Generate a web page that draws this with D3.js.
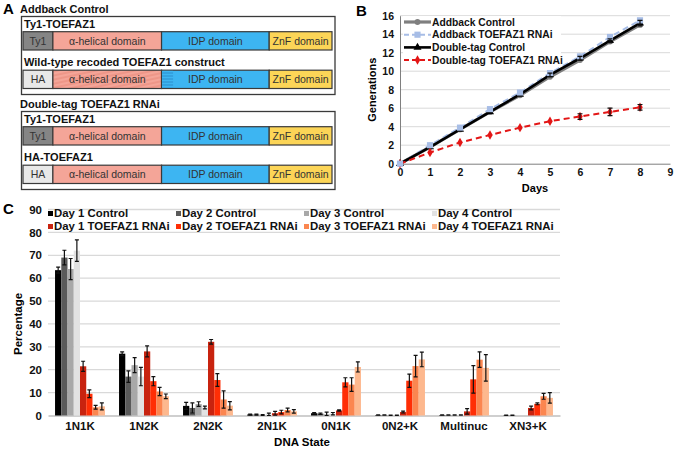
<!DOCTYPE html>
<html>
<head>
<meta charset="utf-8">
<script src="https://cdn.jsdelivr.net/npm/d3@7"></script>
<style>
body { margin: 0; background: #fff; }
svg { display: block; font-family: "Liberation Sans", Arial, sans-serif; }
</style>
</head>
<body>
<svg id="fig" width="674" height="449"></svg>
<script>
// ---- panel A: construct schematics ----
var groupTitles = ["Addback Control", "Double-tag TOEFAZ1 RNAi"];
var rowNames = [["Ty1-TOEFAZ1", "Wild-type recoded TOEFAZ1 construct"], ["Ty1-TOEFAZ1", "HA-TOEFAZ1"]];
var rowTags = [["Ty1", "HA"], ["Ty1", "HA"]];
var rowRecoded = [[false, true], [false, false]];
var domainNames = ["α-helical domain", "IDP domain", "ZnF domain"];
var domainLengths = [30, 109, 108, 63]; // tag, helical, IDP, ZnF (relative units)
var recodedIdpPart = 11;

// ---- panel B: growth curves ----
var days = [0, 1, 2, 3, 4, 5, 6, 7, 8];
var addbackControl = [0, 1.8, 3.7, 5.6, 7.4, 9.4, 11.2, 13.2, 15.0];
var addbackRnai = [0, 2.0, 3.9, 5.9, 7.7, 9.8, 11.6, 13.7, 15.5];
var doubleControl = [0, 1.8, 3.7, 5.6, 7.5, 9.6, 11.4, 13.3, 15.2];
var doubleRnai = [0, 1.2, 2.3, 3.1, 3.9, 4.6, 5.1, 5.6, 6.1];
var doubleControlErr = [0, 0.1, 0.1, 0.1, 0.1, 0.2, 0.2, 0.2, 0.3];
var doubleRnaiErr = [0, 0.1, 0.1, 0.1, 0.1, 0.1, 0.3, 0.4, 0.3];
var growthNames = ["Addback Control", "Addback TOEFAZ1 RNAi", "Double-tag Control", "Double-tag TOEFAZ1 RNAi"];

// ---- panel C: DNA state ----
var dnaStates = ["1N1K", "1N2K", "2N2K", "2N1K", "0N1K", "0N2+K", "Multinuc", "XN3+K"];
var seriesNames = ["Day 1 Control", "Day 2 Control", "Day 3 Control", "Day 4 Control",
                   "Day 1 TOEFAZ1 RNAi", "Day 2 TOEFAZ1 RNAi", "Day 3 TOEFAZ1 RNAi", "Day 4 TOEFAZ1 RNAi"];
var controlDay1 = [63.5, 27, 4.2, 0.4, 1.0, 0.2, 0.2, 0.1];
var controlDay2 = [69, 17, 3.3, 0.4, 0.8, 0.2, 0.2, 0.1];
var controlDay3 = [64, 22, 5.0, 0.2, 0.5, 0.1, 0.2, 0];
var controlDay4 = [72, 17, 3.5, 0.5, 0.8, 0.1, 0.2, 0];
var rnaiDay1 = [21.5, 28, 32.2, 1.0, 2.2, 1.5, 1.8, 3.3];
var rnaiDay2 = [9.5, 15, 15.5, 1.5, 14.5, 15.2, 15.8, 5.1];
var rnaiDay3 = [3.6, 10.5, 7.0, 2.4, 13.5, 21.6, 24.4, 8.4];
var rnaiDay4 = [4.0, 8.4, 4.3, 1.8, 21.2, 24.5, 20.8, 7.7];
var controlDay1Err = [1.3, 0.8, 1.5, 0.2, 0.3, 0.1, 0.1, 0.1];
var controlDay2Err = [3.2, 2.5, 2.2, 0.2, 0.3, 0.1, 0.1, 0.1];
var controlDay3Err = [4.6, 3.3, 1.0, 0.2, 1.0, 0.1, 0.1, 0];
var controlDay4Err = [4.7, 4.0, 0.6, 0.5, 0.5, 0.1, 0.1, 0];
var rnaiDay1Err = [2.2, 2.4, 1.0, 0.8, 0.3, 0.4, 1.2, 0.8];
var rnaiDay2Err = [1.7, 2.0, 2.8, 0.8, 2.0, 2.9, 6.0, 0.4];
var rnaiDay3Err = [0.8, 1.8, 3.8, 0.8, 3.0, 4.7, 3.4, 1.3];
var rnaiDay4Err = [1.5, 1.0, 1.8, 0.8, 2.2, 3.2, 5.8, 2.3];

var seriesValues = [controlDay1, controlDay2, controlDay3, controlDay4, rnaiDay1, rnaiDay2, rnaiDay3, rnaiDay4];
var seriesErrors = [controlDay1Err, controlDay2Err, controlDay3Err, controlDay4Err, rnaiDay1Err, rnaiDay2Err, rnaiDay3Err, rnaiDay4Err];
var seriesColors = ["#000000", "#5a5a5a", "#a8a8a8", "#e2e2e2", "#c8230f", "#ff2e05", "#fb8650", "#fdb88e"];

var svg = d3.select("#fig");
svg.append("rect").attr("width", 674).attr("height", 449).attr("fill", "#fff");

// =========== A ===========
var defs = svg.append("defs");
var hatchPink = defs.append("pattern").attr("id", "hatchPink")
  .attr("patternUnits", "userSpaceOnUse").attr("width", 8).attr("height", 4)
  .attr("patternTransform", "rotate(-12)");
hatchPink.append("rect").attr("width", 8).attr("height", 4).attr("fill", "#f4a598");
hatchPink.append("line").attr("x1", 0).attr("x2", 8).attr("y1", 1).attr("y2", 1)
  .attr("stroke", "#e47f70").attr("stroke-width", 0.8);
var hatchBlue = defs.append("pattern").attr("id", "hatchBlue")
  .attr("patternUnits", "userSpaceOnUse").attr("width", 6).attr("height", 3);
hatchBlue.append("rect").attr("width", 6).attr("height", 3).attr("fill", "#3db5f2");
hatchBlue.append("line").attr("x1", 0).attr("x2", 6).attr("y1", 1).attr("y2", 1)
  .attr("stroke", "#2483c4").attr("stroke-width", 0.8);

var tagColors = { "Ty1": "#858585", "HA": "#e8e8e8" };
var domainColors = ["#f4a598", "#3db5f2", "#fcd557"];

svg.append("text").attr("x", 3).attr("y", 14).attr("font-size", 15).attr("font-weight", "bold").text("A");

var totalLen = d3.sum(domainLengths);
var xDom = d3.scaleLinear().domain([0, totalLen]).range([23, 332]);
var cum = [0];
domainLengths.forEach(function(l, i) { cum.push(cum[i] + l); });

var boxTops = [16.5, 111.5];
var titleYs = [9, 104];

groupTitles.forEach(function(title, g) {
  svg.append("text").attr("x", 20).attr("y", titleYs[g]).attr("dy", "0.35em")
    .attr("font-size", 11).attr("font-weight", "bold").attr("fill", "#111").text(title);
  var top = boxTops[g];
  svg.append("rect").attr("x", 21.5).attr("y", top).attr("width", 313.5).attr("height", 78)
    .attr("fill", "#fff").attr("stroke", "#3a3a3a").attr("stroke-width", 1.3);

  rowNames[g].forEach(function(name, r) {
    var labelY = top + 7.8 + r * 38;
    var barY = top + 15.2 + r * 38.5;
    svg.append("text").attr("x", 24).attr("y", labelY).attr("dy", "0.35em")
      .attr("font-size", 11).attr("font-weight", "bold").attr("fill", "#111").text(name);

    var segs = [{ label: rowTags[g][r], fill: tagColors[rowTags[g][r]], a: cum[0], b: cum[1] }];
    domainNames.forEach(function(dn, i) {
      var fill = domainColors[i];
      if (rowRecoded[g][r] && i === 0) fill = "url(#hatchPink)";
      segs.push({ label: dn, fill: fill, a: cum[i + 1], b: cum[i + 2] });
    });
    segs.forEach(function(s) {
      svg.append("rect").attr("x", xDom(s.a)).attr("y", barY)
        .attr("width", xDom(s.b) - xDom(s.a)).attr("height", 18.3)
        .attr("fill", s.fill).attr("stroke", "#3a3a3a").attr("stroke-width", 1.2);
    });
    if (rowRecoded[g][r]) {
      svg.append("rect").attr("x", xDom(cum[2]) + 0.6).attr("y", barY + 0.6)
        .attr("width", xDom(cum[2] + recodedIdpPart) - xDom(cum[2])).attr("height", 17.1)
        .attr("fill", "url(#hatchBlue)");
    }
    segs.forEach(function(s) {
      svg.append("text").attr("x", (xDom(s.a) + xDom(s.b)) / 2).attr("y", barY + 9.4)
        .attr("dy", "0.35em").attr("text-anchor", "middle").attr("font-size", 10.5)
        .attr("fill", "#333").text(s.label);
    });
  });
});

// =========== B ===========
var xB = d3.scaleLinear().domain([0, 9]).range([400, 670]);
var yB = d3.scaleLinear().domain([0, 16]).range([163.7, 15.7]);

svg.append("text").attr("x", 356).attr("y", 16).attr("font-size", 15).attr("font-weight", "bold").text("B");

var gB = svg.append("g");
gB.selectAll("line.grid").data(d3.range(2, 17, 2)).join("line")
  .attr("x1", xB(0)).attr("x2", xB(9)).attr("y1", function(d) { return yB(d); }).attr("y2", function(d) { return yB(d); })
  .attr("stroke", "#d9d9d9").attr("stroke-width", 1);

var axYB = gB.append("g").attr("transform", "translate(" + xB(0) + ",0)")
  .call(d3.axisLeft(yB).tickValues(d3.range(0, 17, 2)).tickSize(0).tickPadding(6));
var axXB = gB.append("g").attr("transform", "translate(0," + yB(0) + ")")
  .call(d3.axisBottom(xB).ticks(9).tickSize(0).tickPadding(5));
[axYB, axXB].forEach(function(a) {
  a.select(".domain").attr("stroke", "#7f7f7f").attr("stroke-width", 1);
  a.selectAll("text").attr("font-size", 10.5).attr("font-weight", "bold").attr("fill", "#111")
    .attr("font-family", "Liberation Sans, Arial, sans-serif");
});
svg.append("text").attr("transform", "translate(372," + yB(8) + ") rotate(-90)")
  .attr("text-anchor", "middle").attr("dy", "0.35em").attr("font-size", 11).attr("font-weight", "bold").text("Generations");
svg.append("text").attr("x", xB(4.5)).attr("y", 188).attr("text-anchor", "middle").attr("dy", "0.35em")
  .attr("font-size", 11).attr("font-weight", "bold").text("Days");

var lineGen = function(vals) {
  return d3.line().x(function(d, i) { return xB(days[i]); }).y(function(d) { return yB(d); })(vals);
};
var growthStyles = [
  { vals: addbackControl, color: "#7f7f7f", width: 3.2, dash: null, marker: "circle" },
  { vals: addbackRnai, color: "#a7bde6", width: 2, dash: "6,4", marker: "square" },
  { vals: doubleControl, color: "#000", width: 2.6, dash: null, marker: "triangle" },
  { vals: doubleRnai, color: "#e31616", width: 2, dash: "6,4", marker: "diamond" }
];
var symbolTypes = { circle: d3.symbolCircle, square: d3.symbolSquare, triangle: d3.symbolTriangle, diamond: d3.symbolDiamond };
var symbolSizes = { circle: 26, square: 38, triangle: 28, diamond: 26 };

growthStyles.forEach(function(s) {
  gB.append("path").attr("d", lineGen(s.vals)).attr("fill", "none")
    .attr("stroke", s.color).attr("stroke-width", s.width).attr("stroke-dasharray", s.dash);
});
// error bars
function errBarsB(vals, errs) {
  vals.forEach(function(v, i) {
    if (errs[i] < 0.15) return;
    var x = xB(days[i]);
    gB.append("path").attr("d", "M" + (x - 2.5) + "," + yB(v + errs[i]) + "h5M" + x + "," + yB(v + errs[i]) +
      "V" + yB(v - errs[i]) + "M" + (x - 2.5) + "," + yB(v - errs[i]) + "h5")
      .attr("stroke", "#111").attr("stroke-width", 1.2).attr("fill", "none");
  });
}
[0, 2, 3, 1].forEach(function(k) {
  var s = growthStyles[k];
  gB.selectAll(null).data(s.vals).join("path")
    .attr("transform", function(d, i) { return "translate(" + xB(days[i]) + "," + yB(d) + ")"; })
    .attr("d", d3.symbol().type(symbolTypes[s.marker]).size(symbolSizes[s.marker]))
    .attr("fill", s.color);
});
errBarsB(doubleControl, doubleControlErr);
errBarsB(doubleRnai, doubleRnaiErr);

// legend B
var legB = svg.append("g");
legB.append("rect").attr("x", 403).attr("y", 16).attr("width", 158).attr("height", 51).attr("fill", "#fff");
growthNames.forEach(function(name, i) {
  var s = growthStyles[i];
  var y = 22 + i * 12.7;
  legB.append("line").attr("x1", 404).attr("x2", 431).attr("y1", y).attr("y2", y)
    .attr("stroke", s.color).attr("stroke-width", s.width).attr("stroke-dasharray", s.dash ? "5,3" : null);
  legB.append("path").attr("transform", "translate(417.5," + y + ")")
    .attr("d", d3.symbol().type(symbolTypes[s.marker]).size(symbolSizes[s.marker])).attr("fill", s.color);
  legB.append("text").attr("x", 432).attr("y", y).attr("dy", "0.35em")
    .attr("font-size", 10.3).attr("font-weight", "bold").attr("fill", "#111").text(name);
});

// =========== C ===========
var x0 = d3.scaleBand().domain(dnaStates).range([48, 560]).paddingInner(0.22).paddingOuter(0.11);
var x1 = d3.scaleBand().domain(d3.range(8)).range([0, x0.bandwidth()]);
var yC = d3.scaleLinear().domain([0, 90]).range([415.5, 209.5]);

svg.append("text").attr("x", 3).attr("y", 214).attr("font-size", 15).attr("font-weight", "bold").text("C");

var gC = svg.append("g");
gC.selectAll("line.grid").data(d3.range(10, 91, 10)).join("line")
  .attr("x1", 48).attr("x2", 560).attr("y1", function(d) { return yC(d); }).attr("y2", function(d) { return yC(d); })
  .attr("stroke", "#d9d9d9").attr("stroke-width", 1.3);

var axYC = gC.append("g").attr("transform", "translate(48,0)")
  .call(d3.axisLeft(yC).tickValues(d3.range(0, 91, 10)).tickSize(0).tickPadding(6));
axYC.select(".domain").remove();
var axXC = gC.append("g").attr("transform", "translate(0," + yC(0) + ")")
  .call(d3.axisBottom(x0).tickSize(0).tickPadding(6));
axXC.select(".domain").attr("stroke", "#bfbfbf").attr("stroke-width", 1.3);
[axYC, axXC].forEach(function(a) {
  a.selectAll("text").attr("font-size", 11.5).attr("font-weight", "bold").attr("fill", "#111")
    .attr("font-family", "Liberation Sans, Arial, sans-serif");
});

svg.append("text").attr("transform", "translate(18," + yC(40) + ") rotate(-90)")
  .attr("text-anchor", "middle").attr("dy", "0.35em").attr("font-size", 11.5).attr("font-weight", "bold").text("Percentage");
svg.append("text").attr("x", 302).attr("y", 442).attr("text-anchor", "middle").attr("dy", "0.35em")
  .attr("font-size", 11.5).attr("font-weight", "bold").text("DNA State");

seriesValues.forEach(function(vals, s) {
  gC.selectAll(null).data(vals).join("rect")
    .attr("x", function(d, i) { return x0(dnaStates[i]) + x1(s); })
    .attr("y", function(d) { return yC(d); })
    .attr("width", x1.bandwidth())
    .attr("height", function(d) { return yC(0) - yC(d); })
    .attr("fill", seriesColors[s]);
});
seriesValues.forEach(function(vals, s) {
  vals.forEach(function(v, i) {
    var e = seriesErrors[s][i];
    if (e <= 0) return;
    var cx = x0(dnaStates[i]) + x1(s) + x1.bandwidth() / 2;
    var t = yC(v + e), b = yC(Math.max(0, v - e));
    gC.append("path").attr("d", "M" + (cx - 2) + "," + t + "h4M" + cx + "," + t + "V" + b + "M" + (cx - 2) + "," + b + "h4")
      .attr("stroke", "#111").attr("stroke-width", 1.2).attr("fill", "none");
  });
});

// legend C
var legC = svg.append("g");
legC.append("rect").attr("x", 47).attr("y", 211).attr("width", 513).attr("height", 20).attr("fill", "#fff");
seriesNames.forEach(function(name, s) {
  var col = s % 4, row = Math.floor(s / 4);
  var x = 48 + col * 128, y = 213.5 + row * 13;
  legC.append("rect").attr("x", x).attr("y", y - 2.5).attr("width", 5).attr("height", 5).attr("fill", seriesColors[s]);
  legC.append("text").attr("x", x + 6).attr("y", y).attr("dy", "0.35em")
    .attr("font-size", 11.4).attr("font-weight", "bold").attr("fill", "#111").text(name);
});
</script>
</body>
</html>
